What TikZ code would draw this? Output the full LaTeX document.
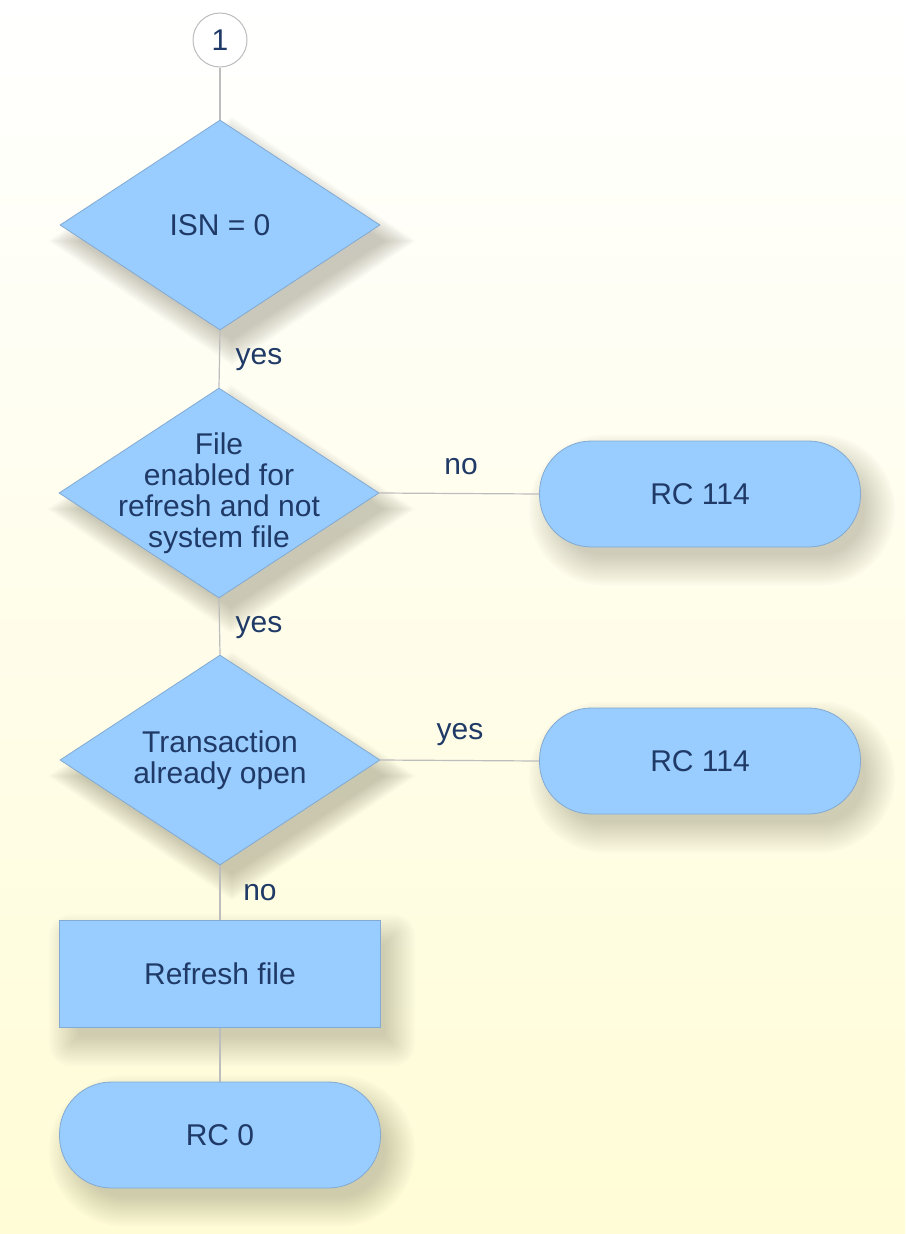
\documentclass[tikz,border=0pt]{standalone}
\usepackage{fontspec}
\setmainfont{Liberation Sans}
\usetikzlibrary{shapes.geometric}
\definecolor{boxfill}{HTML}{99CCFF}
\definecolor{boxline}{HTML}{82AAD2}
\definecolor{txtc}{HTML}{1F3A66}
\definecolor{linec}{HTML}{BDBDBD}
\definecolor{bgbot}{HTML}{FFFCD6}
\definecolor{shadc}{HTML}{7E7A62}
\pgfdeclarelayer{back}
\pgfdeclarelayer{shadow}
\pgfsetlayers{back,shadow,main}
\newcommand\myrshadow[2]{%
 \foreach \dd in {-8,-6,...,22}{%
   \pgfmathsetmacro\rr{max(#2+\dd,0.5)}%
   \pgfmathsetmacro\xa{12-\dd}\pgfmathsetmacro\ya{16-\dd}%
   \pgfmathsetmacro\xb{12+\dd}\pgfmathsetmacro\yb{16+\dd}%
   \fill[shadc, opacity=0.025, rounded corners=\rr pt]
     ([shift={(\xa,\ya)}]#1.north west) rectangle ([shift={(\xb,\yb)}]#1.south east);
 }}
\newcommand\mydshadow[1]{%
 \foreach \dd in {-8,-6,...,22}{%
   \pgfmathsetmacro\hx{1.05*\dd}\pgfmathsetmacro\hy{0.85*\dd}%
   \pgfmathsetmacro\ta{16-\hy}\pgfmathsetmacro\tb{16+\hy}%
   \pgfmathsetmacro\ea{12+\hx}\pgfmathsetmacro\eb{12-\hx}%
   \fill[shadc, opacity=0.027]
     ([shift={(12,\ta)}]#1.north) -- ([shift={(\ea,16)}]#1.east) --
     ([shift={(12,\tb)}]#1.south) -- ([shift={(\eb,16)}]#1.west) -- cycle;
 }}
\begin{document}
\begin{tikzpicture}[x=1pt,y=-1pt,
 every node/.style={font=\fontsize{30}{31}\selectfont, text=txtc},
 dia/.style={diamond, draw=boxline, fill=boxfill, line width=0.8pt, minimum width=320pt, minimum height=210pt, inner sep=0pt},
 dtext/.style={align=center, inner sep=0pt},
 term/.style={rectangle, rounded corners=52pt, draw=boxline, fill=boxfill, line width=0.8pt, minimum width=321pt, minimum height=106pt},
 proc/.style={rectangle, draw=boxline, fill=boxfill, line width=0.8pt, minimum width=321pt, minimum height=107pt},
 conn/.style={draw=linec, line width=1.2pt},
 lbl/.style={inner sep=0pt},
 circ/.style={circle, draw=linec, fill=white, line width=1pt, minimum size=54pt, inner sep=0pt}
]
\useasboundingbox (0,0) rectangle (905,1234);
\begin{pgfonlayer}{back}
\shade[top color=white, bottom color=bgbot] (0,0) rectangle (905,1234);
\end{pgfonlayer}

\node[circ] (c1) at (220,40) {1};
\node[dia] (d1) at (220,225) {};
\node[dtext] (t1) at (d1) {ISN = 0};
\node[dia] (d2) at (219,493) {};
\node[dtext] (t2) at (d2) {File\\enabled for\\refresh and not\\system file};
\node[term] (r1) at (700,494) {RC 114};
\node[dia] (d3) at (220,760) {};
\node[dtext] (t3) at (d3) {Transaction\\already open};
\node[term] (r2) at (700,761) {RC 114};
\node[proc] (p1) at (220,974) {Refresh file};
\node[term] (r0) at (220,1135) {RC 0};

\begin{pgfonlayer}{shadow}
\mydshadow{d1}
\mydshadow{d2}
\mydshadow{d3}
\myrshadow{r1}{53}
\myrshadow{r2}{53}
\myrshadow{r0}{53}
\myrshadow{p1}{0}
\draw[conn] (c1.south) -- (d1.north);
\draw[conn] (d1.south) -- (d2.north);
\draw[conn] (d2.east) -- (r1.west);
\draw[conn] (d2.south) -- (d3.north);
\draw[conn] (d3.east) -- (r2.west);
\draw[conn] (d3.south) -- (p1.north);
\draw[conn] (p1.south) -- (r0.north);
\end{pgfonlayer}

\node[lbl] (l1) at (259,360) {yes};
\node[lbl] (l2) at (461,467) {no};
\node[lbl] (l3) at (259,628) {yes};
\node[lbl] (l4) at (460,735) {yes};
\node[lbl] (l5) at (260,893) {no};
\end{tikzpicture}
\end{document}
